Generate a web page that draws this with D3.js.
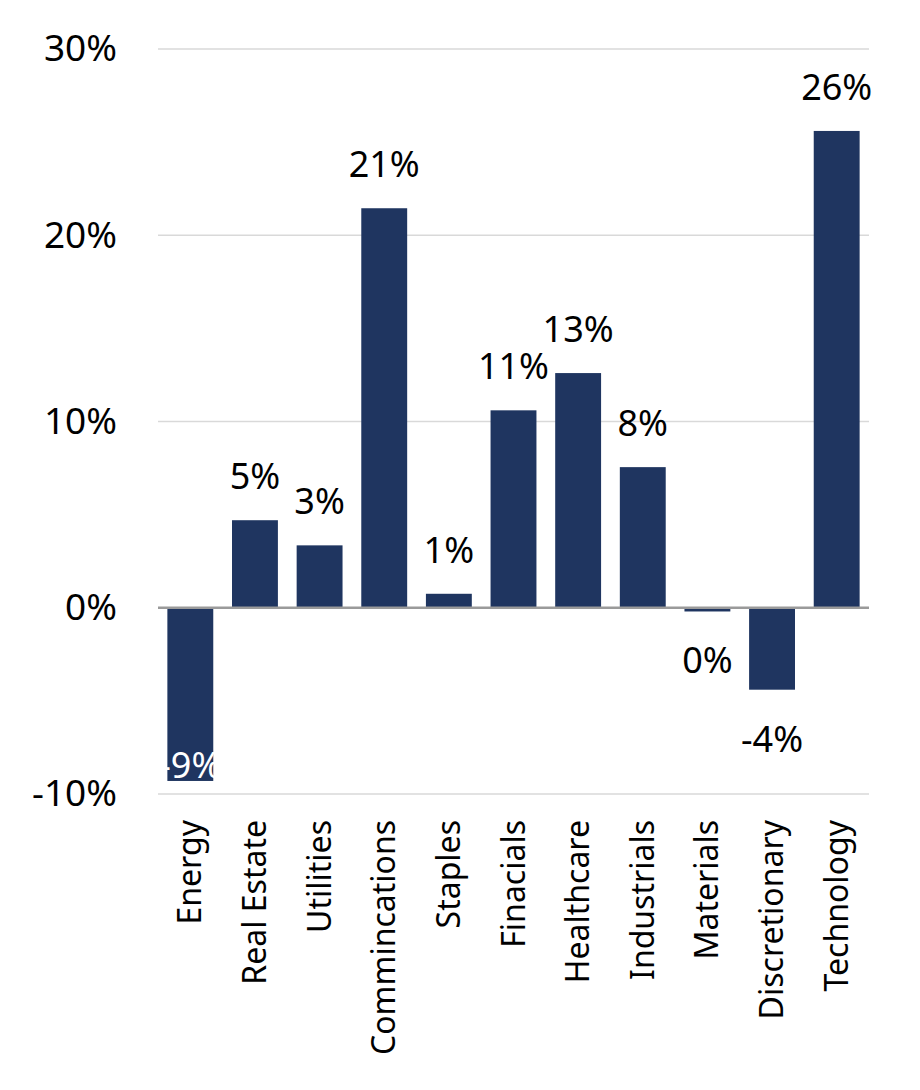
<!DOCTYPE html>
<html>
<head>
<meta charset="utf-8">
<script src="https://cdn.jsdelivr.net/npm/d3@7"></script>
<style>
  html, body { margin: 0; padding: 0; background: #fff; }
  svg { display: block; }
  text { font-family: "Noto Sans", sans-serif; }
</style>
</head>
<body>
<svg id="chart" width="920" height="1090"></svg>
<script>
const categories = ["Energy", "Real Estate", "Utilities", "Commincations", "Staples", "Finacials", "Healthcare", "Industrials", "Materials", "Discretionary", "Technology"];
const values = [-9.3, 4.7, 3.35, 21.45, 0.75, 10.6, 12.6, 7.55, -0.2, -4.4, 25.6];
const yTicks = [-10, 0, 10, 20, 30];

const svg = d3.select("#chart");
const plotLeft = 158, plotRight = 869, plotTop = 49, plotBottom = 794;
const barColor = "#1f3560";

const x = d3.scaleBand().domain(categories).range([plotLeft, plotRight]).paddingInner(0.29).paddingOuter(0.145);
const y = d3.scaleLinear().domain([-10, 30]).range([plotBottom, plotTop]);

// gridlines
svg.append("g").selectAll("line").data(yTicks.filter(d => d !== 0)).join("line")
  .attr("x1", plotLeft).attr("x2", plotRight)
  .attr("y1", d => y(d)).attr("y2", d => y(d))
  .attr("stroke", "#d9d9d9").attr("stroke-width", 1.5);

// y axis
const yAxis = svg.append("g").attr("transform", `translate(${plotLeft},0)`)
  .call(d3.axisLeft(y).tickValues(yTicks).tickFormat(d => d + "%").tickSize(0).tickPadding(41));
yAxis.select(".domain").remove();
yAxis.selectAll("text").attr("font-size", 37).attr("fill", "#000").attr("font-family", "Noto Sans, sans-serif");

// bars
svg.append("g").selectAll("rect").data(values).join("rect")
  .attr("x", (d, i) => x(categories[i]))
  .attr("width", x.bandwidth())
  .attr("y", d => Math.min(y(d), y(0)))
  .attr("height", d => Math.abs(y(d) - y(0)))
  .attr("fill", barColor);

// zero line
svg.append("line").attr("x1", plotLeft).attr("x2", plotRight)
  .attr("y1", y(0)).attr("y2", y(0))
  .attr("stroke", "#9a9a9a").attr("stroke-width", 2.5);

// data labels
const inside = d => d < 0 && y(d) + 62 > plotBottom;
svg.append("g").selectAll("text").data(values).join("text")
  .attr("x", (d, i) => x(categories[i]) + x.bandwidth() / 2)
  .attr("y", d => d >= 0 ? y(d) - 31 : (inside(d) ? y(d) - 3 : y(d) + 62))
  .attr("text-anchor", "middle")
  .attr("font-size", 36)
  .attr("fill", d => inside(d) ? "#fff" : "#000")
  .text(d => Math.round(d) + "%");

// category labels
svg.append("g").selectAll("text").data(categories).join("text")
  .attr("transform", d => `translate(${x(d) + x.bandwidth() / 2 + 11},820) rotate(-90)`)
  .attr("text-anchor", "end")
  .attr("font-size", 32)
  .attr("fill", "#000")
  .text(d => d);
</script>
</body>
</html>
